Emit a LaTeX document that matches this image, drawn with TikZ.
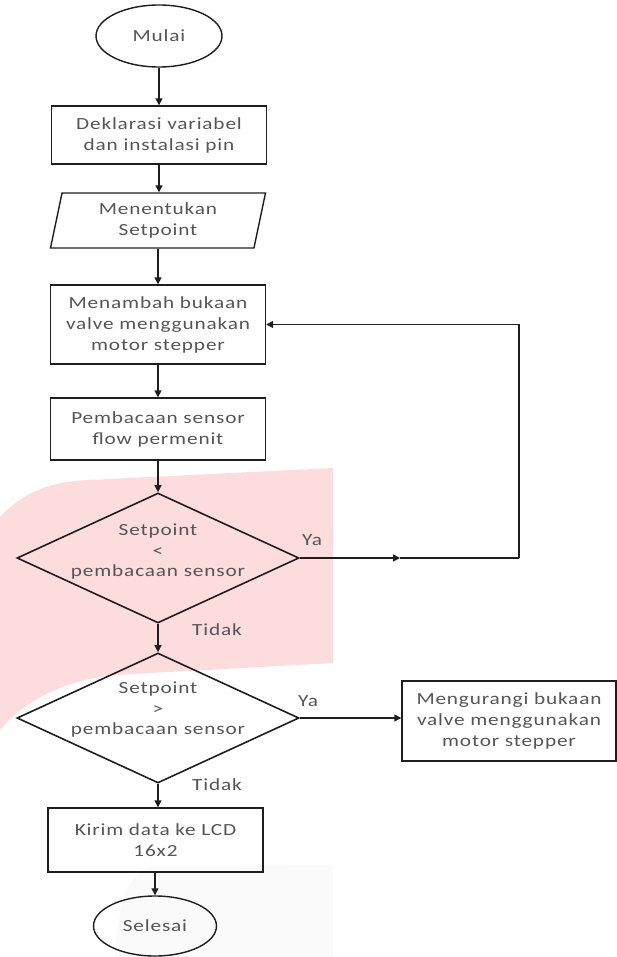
\documentclass[tikz,border=0pt]{standalone}
\usepackage{fontspec}
\setmainfont[FakeStretch=1.25,LetterSpace=5]{Carlito}
\usetikzlibrary{shapes.geometric,arrows.meta}
\definecolor{watermerah}{RGB}{253,220,222}
\definecolor{teksabu}{RGB}{85,85,85}
\definecolor{garis}{RGB}{30,30,30}
\tikzset{
  proses/.style={draw=garis,rectangle,line width=1.4pt,minimum width=215pt,align=center,inner sep=0pt},
  io/.style={draw=garis,trapezium,trapezium left angle=72,trapezium right angle=108,trapezium stretches body,line width=1.4pt,minimum width=215pt,minimum height=55pt,align=center,inner sep=0pt},
  keputusan/.style={draw=garis,diamond,line width=1.6pt,minimum width=282pt,minimum height=130pt,inner sep=0pt},
  isi/.style={align=center,inner sep=0pt,font=\fontsize{17}{20.5}\selectfont},
  terminal/.style={draw=garis,ellipse,line width=1.4pt,inner sep=0pt},
  panah/.style={draw=garis,line width=1.4pt,-{Triangle[length=7pt,width=7pt]}},
  garisan/.style={draw=garis,line width=1.4pt},
  ket/.style={inner sep=0pt}
}

\begin{document}
\begin{tikzpicture}[x=1pt,y=-1pt,every node/.style={font=\fontsize{17}{21}\selectfont,text=teksabu}]
\useasboundingbox (0,0) rectangle (617,957);
% watermark di belakang
\fill[watermerah] (0,517) .. controls (25,490) and (55,481) .. (90,480) -- (333,468) -- (333,663) -- (115,675) .. controls (65,680) and (25,700) .. (0,730) -- cycle;
\fill[black!2] (333,865) -- (150,867) .. controls (130,872) and (118,900) .. (115,957) -- (333,957) -- cycle;

\node[terminal,minimum width=126pt,minimum height=62pt] (mulai) at (159,36) {Mulai};
\node[proses,minimum height=58pt] (deklarasi) at (159,135) {Deklarasi variabel\\dan instalasi pin};
\node[io] (setpoint) at (158,220.5) {Menentukan\\Setpoint};
\node[proses,minimum height=79pt] (tambah) at (158,324.5) {Menambah bukaan\\valve menggunakan\\motor stepper};
\node[proses,minimum height=62pt] (baca) at (158,429) {Pembacaan sensor\\flow permenit};
\node[keputusan,label={[isi,yshift=6pt]center:Setpoint\\<\\pembacaan sensor}] (cek1) at (158,558) {};
\node[keputusan,label={[isi,yshift=8pt]center:Setpoint\\>\\pembacaan sensor}] (cek2) at (158,718) {};
\node[proses,minimum width=214pt,minimum height=80pt] (kurang) at (509,721) {Mengurangi bukaan\\valve menggunakan\\motor stepper};
\node[proses,minimum height=64pt] (lcd) at (155.5,840) {Kirim data ke LCD\\16x2};
\node[terminal,minimum width=123pt,minimum height=60pt] (selesai) at (155,926) {Selesai};

\node[ket] (ya1) at (312,540) {Ya};
\node[ket] (tidak1) at (217,630) {Tidak};
\node[ket] (ya2) at (308,701) {Ya};
\node[ket] (tidak2) at (217,785) {Tidak};

\coordinate (tengah1) at (400,558);
\coordinate (belok1) at (519,558);

\draw[panah] (mulai) -- (deklarasi);
\draw[panah] (deklarasi) -- (deklarasi |- setpoint.north);
\draw[panah] (setpoint.south) -- (setpoint.south |- tambah.north);
\draw[panah] (tambah) -- (baca);
\draw[panah] (baca) -- (cek1);
\draw[panah] (cek1) -- (cek2);
\draw[panah] (cek1.east) -- (tengah1);
\draw[garisan] (tengah1) -- (belok1);
\draw[panah] (belok1) |- (tambah.east);
\draw[panah] (cek2.east) -- (cek2.east -| kurang.west);
\draw[panah] (cek2.south) -- (cek2.south |- lcd.north);
\draw[panah] (lcd.south -| selesai.north) -- (selesai.north);
\end{tikzpicture}
\end{document}
